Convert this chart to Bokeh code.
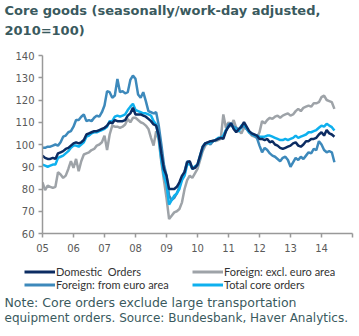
import numpy as np
from bokeh.plotting import figure
from bokeh.models import Legend, LegendItem, FixedTicker, Range1d, Label
from bokeh.embed import file_html
from bokeh.resources import INLINE

start_year = 2005
years = [2005, 2006, 2007, 2008, 2009, 2010, 2011, 2012, 2013, 2014, 2015]
year_labels = ["05", "06", "07", "08", "09", "10", "11", "12", "13", "14", ""]
y_ticks = [60, 70, 80, 90, 100, 110, 120, 130, 140]

domestic = [
    95, 94, 93.5, 93.5, 94, 93.5, 96, 96.5, 97, 98, 98.5, 99.5,
    100.5, 101, 100.5, 101, 102, 104.5, 105, 105.5, 106, 106, 106.5, 107,
    107.5, 108.5, 110, 109.5, 111, 110.5, 110.5, 110.5, 111, 113, 114, 116.5,
    113.5, 113.5, 113.5, 113, 112.5, 111.5, 110.5, 109, 108.5, 104, 96, 89,
    86, 80, 80, 80, 81, 83, 86, 87.5, 92, 92.5, 89, 89.5,
    91, 95, 99, 100.5, 101, 101.5, 101.5, 102, 102.5, 103, 102.5, 106,
    108, 109.5, 107, 105.5, 107, 108, 110, 108, 106, 105, 104.5, 104,
    102.5, 102.5, 102, 102.5, 101, 101.5, 100, 99.5, 98.5, 98, 98.5, 99,
    99.5, 100.5, 101, 99.5, 99, 100, 101.5, 101.5, 102.5, 102.5, 103, 104.5,
    105.5, 104, 106.5, 105, 104.5, 103.5,
]
foreign_excl = [
    83, 79.5, 81.5, 81, 80.5, 81, 87.5, 86.5, 85, 86, 89, 92.5,
    89.5, 93.5, 88, 92.5, 95.5, 96, 96.5, 97.5, 98, 99.5, 100, 101,
    104, 97.5, 104.5, 108.5, 108, 108, 107.5, 108, 109, 111.5, 110, 112,
    112, 111, 110, 109.5, 108.5, 107, 103, 99.5, 106, 102, 92, 84,
    76, 66.5, 68, 69.5, 70, 71, 74, 80, 84, 86, 85, 87,
    89, 93, 97, 99.5, 100.5, 101, 102, 101.5, 102, 102.5, 113.5, 107.5,
    110, 108, 111, 107.5, 106, 105, 107.5, 107, 105.5, 104, 103.5, 103,
    105.5, 110.5, 109.5, 111, 112, 111.5, 112.5, 113, 112, 113, 113.5, 114,
    113, 113.5, 115, 116, 115, 116.5, 117, 117.5, 117, 118.5, 118.5, 119,
    121.3, 122, 120, 119.5, 119, 116,
]
foreign_euro = [
    98.5, 98.5, 99, 99, 99.5, 100, 99.5, 101, 103.5, 104, 105.5, 106,
    108, 111, 111, 112.5, 113.5, 110.5, 111, 110.5, 112, 113, 112.5, 114.5,
    117.5, 124, 123.5, 121, 122, 129.5, 123.5, 124, 123, 123.5, 129, 131,
    129.5, 122.5, 121, 123.5, 119.5, 115, 114.5, 114, 114.5, 108.5, 100, 91,
    86, 77, 75, 76, 78, 81, 85, 88, 92.5, 92, 89.5, 90,
    90.5, 94, 98, 100.5, 101, 100, 101.5, 102, 102.5, 103, 103.5, 106,
    109, 109.5, 108, 107.5, 106.5, 107.5, 108.5, 107, 105.5, 104.5, 104, 103,
    99.5, 96.5, 98.5, 97.5, 96, 95, 94.5, 93.5, 92.5, 94, 94.5, 93,
    90, 92, 94, 93, 94.5, 93.5, 95, 96.5, 96, 98, 97.5, 101.5,
    100, 97.5, 96.5, 97, 96.5, 92,
]
total_core = [
    91, 90.5, 90, 90.5, 91, 91, 94, 94.5, 95, 96, 97, 98.5,
    99.5, 99.5, 99, 100, 101, 103.5, 104, 105, 105.5, 105.5, 106, 106.5,
    107, 108, 110.5, 110.5, 112.5, 113, 112.5, 113, 113.5, 115.5, 117, 118.3,
    115.5, 115, 114.5, 114, 114, 113.5, 113, 110.5, 109, 103, 93, 86,
    82, 73, 75, 77, 78, 80, 84, 86, 91, 91.5, 89, 90,
    91, 95, 99, 100.5, 100.5, 101, 101.5, 102, 103, 103, 104, 106.5,
    108, 109, 107.5, 106.5, 106, 108.5, 109, 107.5, 105.5, 105, 104, 104,
    103.5, 103.5, 103.5, 104, 104, 103.5, 103, 102.5, 102, 102, 102.5, 102,
    102.5, 103, 104, 103, 103.5, 104, 104.5, 105.5, 105.5, 106, 106.5, 107.5,
    108.5, 108, 109.3, 108.5, 107.8, 106.3,
]

series_labels = ["Domestic  Orders", "Foreign: excl. euro area",
                 "Foreign: from euro area", "Total core orders"]
colors = {"dom": "#0c2c62", "excl": "#9ea3a8", "euro": "#3d89bb", "total": "#0eb0ee"}
title_lines = ["Core  goods (seasonally/work-day adjusted,", "2010=100)"]
note_lines = ["Note: Core orders exclude large transportation",
              "equipment orders. Source: Bundesbank, Haver Analytics."]

x = [start_year + i / 12 for i in range(len(domestic))]
LW = 2.5
TEXT_COLOR = "#3a5a5e"


def blank(height):
    f = figure(width=359, height=height, output_backend="svg", toolbar_location=None,
               x_range=Range1d(0, 359), y_range=Range1d(height, 0),
               x_axis_type=None, y_axis_type=None,
               min_border=0, min_border_left=0, min_border_right=0,
               min_border_top=0, min_border_bottom=0)
    f.outline_line_color = None
    f.grid.visible = False
    return f


# ---------- header ----------
h = blank(44)
for i, txt in enumerate(title_lines):
    h.add_layout(Label(x=4, y=10 + 20 * i, text=txt, text_font="DejaVu Sans",
                       text_font_size="13px", text_font_style="bold",
                       text_color=TEXT_COLOR, text_baseline="middle"))

# ---------- main chart ----------
p = figure(width=359, height=216, output_backend="svg", toolbar_location=None,
           x_range=Range1d(2005, 2015), y_range=Range1d(60, 140),
           min_border_left=42, min_border_right=7, min_border_top=11, min_border_bottom=27)
p.outline_line_color = None
p.grid.visible = False

p.line(x, foreign_excl, line_color=colors["excl"], line_width=LW)
p.line(x, foreign_euro, line_color=colors["euro"], line_width=LW)
p.line(x, total_core, line_color=colors["total"], line_width=LW)
p.line(x, domestic, line_color=colors["dom"], line_width=LW)

for ax in (p.xaxis[0], p.yaxis[0]):
    ax.axis_line_color = "#999999"
    ax.axis_line_width = 1.5
    ax.major_tick_line_color = "#999999"
    ax.major_tick_line_width = 1.5
    ax.major_tick_in = 0
    ax.major_tick_out = 4
    ax.minor_tick_line_color = None
    ax.major_label_text_font = "DejaVu Sans"
    ax.major_label_text_font_size = "10px"
    ax.major_label_text_color = "#5a5a5a"

p.xaxis.ticker = FixedTicker(ticks=years)
p.xaxis.major_label_overrides = {yr: lab for yr, lab in zip(years, year_labels)}
p.xaxis.major_label_standoff = 6
p.yaxis.ticker = FixedTicker(ticks=y_ticks)
p.yaxis.major_label_standoff = 4

# ---------- legend + note ----------
q = blank(76)
nan = float("nan")
g_dom = q.line([nan], [nan], line_color=colors["dom"], line_width=3)
g_excl = q.line([nan], [nan], line_color=colors["excl"], line_width=3)
g_euro = q.line([nan], [nan], line_color=colors["euro"], line_width=3)
g_total = q.line([nan], [nan], line_color=colors["total"], line_width=3)


def make_legend(items, y):
    lg = Legend(items=items, orientation="horizontal", location=(24, y))
    lg.label_text_font = "Lato"
    lg.label_text_font_size = "11px"
    lg.label_text_color = "#333333"
    lg.glyph_width = 31
    lg.glyph_height = 11
    lg.label_height = 11
    lg.label_width = 136
    lg.label_standoff = 1
    lg.spacing = 0
    lg.padding = 0
    lg.margin = 0
    lg.border_line_color = None
    lg.background_fill_alpha = 0
    return lg


q.add_layout(make_legend([LegendItem(label=series_labels[0], renderers=[g_dom]),
                          LegendItem(label=series_labels[1], renderers=[g_excl])], 58), "center")
q.add_layout(make_legend([LegendItem(label=series_labels[2], renderers=[g_euro]),
                          LegendItem(label=series_labels[3], renderers=[g_total])], 45), "center")

for i, (txt, fs) in enumerate(zip(note_lines, ["12.5px", "12px"])):
    q.add_layout(Label(x=4, y=42 + 15 * i, text=txt, text_font="DejaVu Sans",
                       text_font_size=fs, text_color=TEXT_COLOR,
                       text_baseline="middle"))

open("out.html", "w").write(file_html([h, p, q], INLINE))
